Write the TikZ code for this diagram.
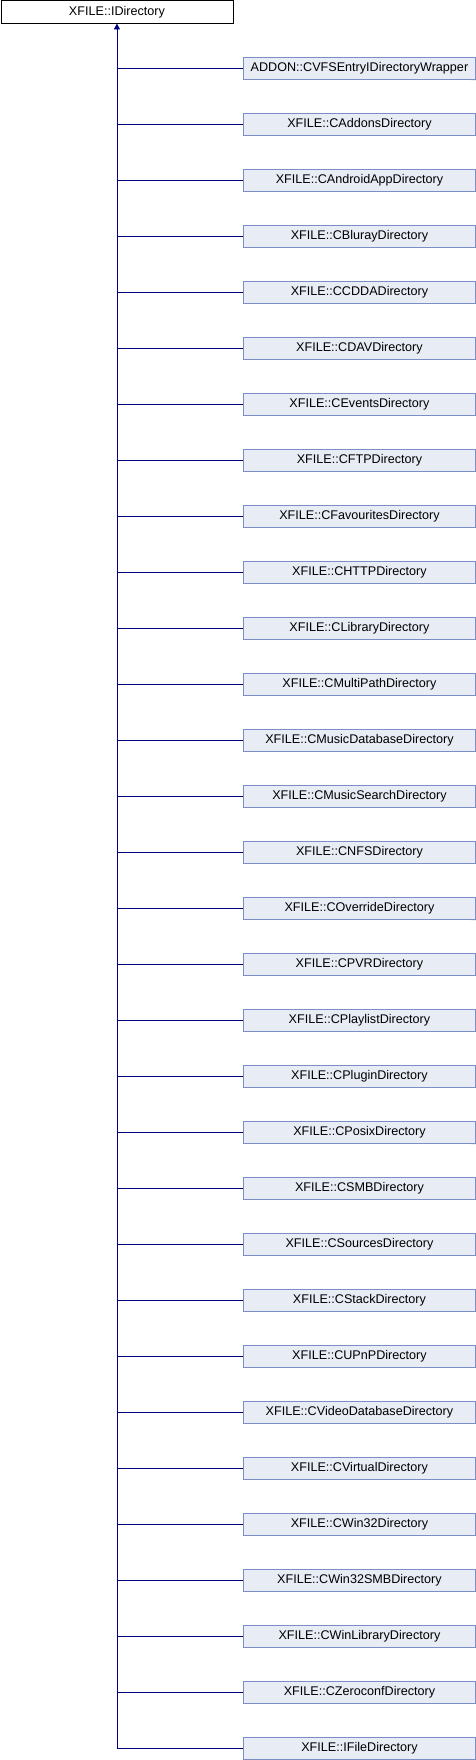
\documentclass[tikz,border=0pt]{standalone}
\usepackage{fontspec}
\setmainfont{Liberation Sans}
\usetikzlibrary{arrows.meta}
\definecolor{boxfill}{RGB}{232,236,245}
\definecolor{boxdraw}{RGB}{122,142,200}
\definecolor{edge}{RGB}{0,0,128}
\begin{document}
\begin{tikzpicture}[x=1pt,y=-1pt,
  base/.style={draw=black, fill=white, minimum width=232pt, minimum height=22.6pt, inner sep=0pt, font=\fontsize{12.6}{14}\selectfont, line width=0.9pt},
  child/.style={base, draw=boxdraw, fill=boxfill},
  folded/.style={child, append after command={
     \pgfextra{\fill[boxdraw] ([xshift=-5pt]\tikzlastnode.south east) -- (\tikzlastnode.south east) -- ([yshift=5pt]\tikzlastnode.south east) -- cycle;}}},
  edgeline/.style={draw=edge, line width=0.9pt},
  arr/.style={edgeline, -{Triangle[length=6pt,width=6pt]}}]
\useasboundingbox (0,0) rectangle (476,1760);
\node[base, anchor=north west] (top) at (0.5,0.5) {XFILE::IDirectory};
\foreach \t [count=\i] in {ADDON::CVFSEntryIDirectoryWrapper, XFILE::CAddonsDirectory, XFILE::CAndroidAppDirectory, XFILE::CBlurayDirectory, XFILE::CCDDADirectory, XFILE::CDAVDirectory, XFILE::CEventsDirectory, XFILE::CFTPDirectory, XFILE::CFavouritesDirectory, XFILE::CHTTPDirectory, XFILE::CLibraryDirectory, XFILE::CMultiPathDirectory, XFILE::CMusicDatabaseDirectory, XFILE::CMusicSearchDirectory, XFILE::CNFSDirectory, XFILE::COverrideDirectory, XFILE::CPVRDirectory, XFILE::CPlaylistDirectory, XFILE::CPluginDirectory, XFILE::CPosixDirectory, XFILE::CSMBDirectory, XFILE::CSourcesDirectory, XFILE::CStackDirectory, XFILE::CUPnPDirectory, XFILE::CVideoDatabaseDirectory, XFILE::CVirtualDirectory, XFILE::CWin32Directory, XFILE::CWin32SMBDirectory, XFILE::CWinLibraryDirectory, XFILE::CZeroconfDirectory, XFILE::IFileDirectory}{
  \ifnum\i=1 \def\sty{folded}\else\ifnum\i=16 \def\sty{folded}\else\ifnum\i=20 \def\sty{folded}\else\ifnum\i=31 \def\sty{folded}\else\def\sty{child}\fi\fi\fi\fi
  \node[\sty, anchor=north west] (c\i) at (243, {56.7+56*(\i-1)}) {\t};
  \draw[edgeline] (c\i.west) -- (top.south |- c\i.west);
}
\draw[arr] (top.south |- c31.west) -- ([yshift=0.5pt]top.south);
\end{tikzpicture}
\end{document}
